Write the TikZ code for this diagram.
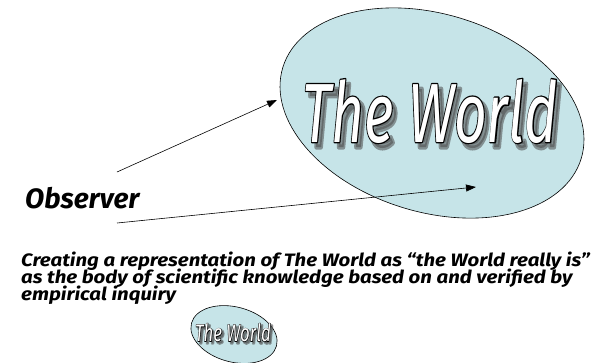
\documentclass[tikz,border=0pt]{standalone}
\usepackage{fontspec}
\setmainfont{Fira Sans}
\usetikzlibrary{shapes.geometric,arrows.meta}
\definecolor{worldfill}{RGB}{198,228,232}
\newcommand\thicktext[2]{\special{pdf:literal q 2 Tr #1 w 1 j}#2\special{pdf:literal Q}}
\tikzset{
  world/.style={ellipse, draw=black, line width=0.6pt, fill=worldfill, inner sep=0pt},
  shadowtxt/.style={text=black!70, text opacity=0.55, inner sep=0pt},
  edgetxt/.style={text=black, inner sep=0pt},
  filltxt/.style={text=white, inner sep=0pt},
  bigfont/.style={xscale=0.675, font=\fontsize{84}{84}\selectfont\itshape},
  smallfont/.style={xscale=0.7, font=\fontsize{24}{24}\selectfont\itshape},
  obs/.style={inner sep=0pt, font=\fontsize{28}{30}\selectfont\bfseries\itshape},
  body/.style={inner sep=0pt, align=left, yscale=0.88, font={\fontsize{20.4}{18.9}\selectfont\bfseries\itshape\lineskiplimit=-20pt}},
  arr/.style={line width=0.6pt, -{Triangle[length=10pt,width=7pt]}}
}
\begin{document}
\begin{tikzpicture}[x=1pt,y=-1pt]
\useasboundingbox (0,0) rectangle (607,362);
% big world
\node[world, minimum width=312pt, minimum height=198pt, rotate=-17] (big) at (432,113) {};
\node[shadowtxt, bigfont] (bigshadow) at (434,116) {\thicktext{5}{The World}};
\node[edgetxt, bigfont] (bigedge) at (430,111) {\thicktext{2.6}{The World}};
\node[filltxt, bigfont] (bigtxt) at (430,111) {The World};
% observer
\node[obs, anchor=base west] (observer) at (25,208) {Observer};
\coordinate (a1s) at (117,172);
\coordinate (a1e) at (277,100);
\coordinate (a2s) at (117,223);
\coordinate (a2e) at (476,187);
\draw[arr] (a1s) -- (a1e);
\draw[arr] (a2s) -- (a2e);
% body text
\node[body, anchor=base west] (caption) at (21,300) {Creating a representation of The World as “the World really is”\\as the body of scientific knowledge based on and verified by\\empirical inquiry};
% small world
\node[world, minimum width=88pt, minimum height=55pt, rotate=-15] (small) at (234,334.5) {};
\node[shadowtxt, smallfont] (smallshadow) at (235,334.5) {\thicktext{2.5}{The World}};
\node[edgetxt, smallfont] (smalledge) at (233,332.5) {\thicktext{1.2}{The World}};
\node[filltxt, smallfont] (smalltxt) at (233,332.5) {The World};
\end{tikzpicture}
\end{document}
